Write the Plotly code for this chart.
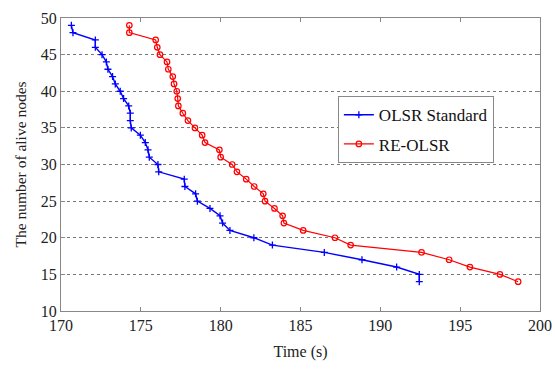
import plotly.graph_objects as go

nodes = list(range(49, 13, -1))

olsr_time = [170.65, 170.75, 172.15, 172.15, 172.57, 172.84, 172.94, 173.23, 173.40, 173.71,
             173.92, 174.24, 174.34, 174.34, 174.40, 174.97, 175.28, 175.45, 175.53, 176.07,
             176.12, 177.72, 177.76, 178.43, 178.54, 179.33, 179.96, 180.12, 180.58, 182.08,
             183.24, 186.49, 188.85, 191.02, 192.44, 192.44]

re_olsr_time = [174.28, 174.28, 175.93, 176.03, 176.20, 176.64, 176.72, 177.00, 177.08, 177.25,
                177.31, 177.35, 177.63, 177.95, 178.39, 178.84, 179.02, 179.92, 180.00, 180.72,
                181.02, 181.60, 182.10, 182.67, 182.78, 183.37, 183.88, 183.96, 185.17, 187.16,
                188.14, 192.58, 194.31, 195.61, 197.49, 198.63]

x_ticks = [170, 175, 180, 185, 190, 195, 200]
y_ticks = [10, 15, 20, 25, 30, 35, 40, 45, 50]

font_family = "Liberation Serif, Times New Roman, serif"

fig = go.Figure()
fig.add_trace(go.Scatter(
    x=olsr_time, y=nodes, mode="lines+markers", name="OLSR Standard",
    legendgroup="a",
    line=dict(color="#0000ff", width=1.4),
    marker=dict(symbol="cross-thin", size=5, line=dict(color="#0000ff", width=1.3)),
))
fig.add_trace(go.Scatter(
    x=re_olsr_time, y=nodes, mode="lines+markers", name="RE-OLSR",
    legendgroup="b",
    line=dict(color="#ff0000", width=1.2),
    marker=dict(symbol="circle-open", size=5.5, line=dict(color="#ff0000", width=1.2)),
))

fig.update_layout(
    width=555, height=369,
    margin=dict(l=61, r=15, t=18, b=58),
    paper_bgcolor="white", plot_bgcolor="white",
    font=dict(family=font_family, size=16, color="#222"),
    legend=dict(
        x=0.578, y=0.733, xanchor="left", yanchor="top",
        bordercolor="#888", borderwidth=1, bgcolor="white",
        font=dict(size=17, family=font_family, color="#111"),
        tracegroupgap=4, traceorder="grouped",
    ),
    showlegend=True,
)
fig.update_xaxes(
    range=[170, 200], tickvals=x_ticks, ticktext=[str(v) for v in x_ticks],
    showgrid=False, zeroline=False, automargin=False,
    showline=True, linecolor="#888", linewidth=1, mirror="ticks",
    ticks="inside", ticklen=4, tickcolor="#888",
    tickfont=dict(size=16),
    title=dict(text="Time (s)", font=dict(size=16, family=font_family), standoff=12),
)
fig.update_yaxes(
    range=[10, 50], tickvals=y_ticks, ticktext=[str(v) for v in y_ticks],
    showgrid=True, gridcolor="#777", griddash="dot", gridwidth=1,
    zeroline=False, automargin=False,
    showline=True, linecolor="#888", linewidth=1, mirror="ticks",
    ticks="inside", ticklen=4, tickcolor="#888",
    tickfont=dict(size=16),
    title=dict(text="The number of alive nodes", font=dict(size=15.5, family=font_family), standoff=10),
)

fig.write_html("out.html", config={"displayModeBar": False},
               post_script="document.body.style.margin='0';")
